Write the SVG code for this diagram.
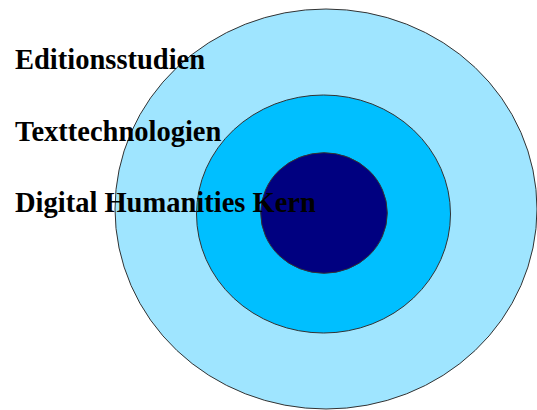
<svg xmlns="http://www.w3.org/2000/svg" width="537" height="410" viewBox="0 0 537 410">
<style>
.ring{stroke:#333;stroke-width:1}
.lbl{font-family:"Liberation Serif","Times New Roman",serif;font-weight:bold;font-size:28.5px;fill:#000}
</style>
<rect width="537" height="410" fill="#fff"/>
<g id="outer"><ellipse class="ring" cx="326" cy="209" rx="211" ry="200" fill="#9fe5ff"/></g>
<g id="middle"><ellipse class="ring" cx="323.5" cy="214" rx="127" ry="119" fill="#00bfff"/></g>
<g id="inner"><ellipse class="ring" cx="324" cy="213" rx="63.3" ry="60.3" fill="#000080"/></g>
<g id="labels">
<text class="lbl" x="15" y="69">Editionsstudien</text>
<text class="lbl" x="15" y="141">Texttechnologien</text>
<text class="lbl" x="15" y="212">Digital Humanities Kern</text>
</g>
<g id="connectors"/>
</svg>
